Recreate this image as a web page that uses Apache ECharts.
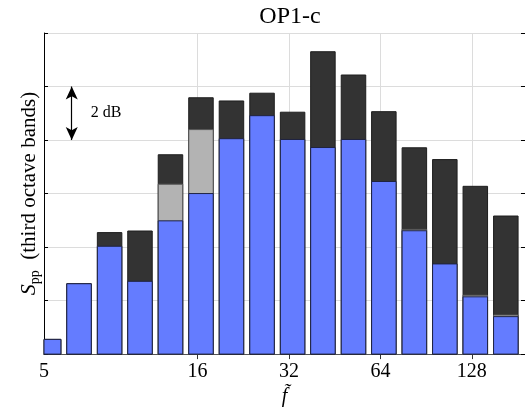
<!DOCTYPE html>
<html>
<head>
<meta charset="utf-8">
<script src="https://cdn.jsdelivr.net/npm/echarts@6/dist/echarts.min.js"></script>
<style>html,body{margin:0;padding:0;background:#fff}#c{width:525px;height:412px}</style>
</head>
<body>
<div id="c"></div>
<script>
// Third-octave band centre frequencies (as placed on the plot)
const bandFreqs = [5.18, 6.52, 8.22, 10.35, 13.04, 16.43, 20.7, 26.1, 32.9, 41.4, 52.2, 65.7, 82.8, 104.3, 131.4, 165.6];
// Levels (dB, relative)
const darkVals = [0.55, 2.63, 4.54, 4.60, 7.45, 9.58, 9.46, 9.75, 9.04, 11.30, 10.43, 9.06, 7.71, 7.27, 6.27, 5.16];
const grayVals = [null, null, null, null, 6.35, 8.39, null, null, null, null, null, null, 4.66, null, 2.20, 1.46];
const blueVals = [0.55, 2.63, 4.03, 2.72, 4.98, 6.00, 8.05, 8.91, 8.02, 7.72, 8.02, 6.45, 4.61, 3.37, 2.14, 1.40];
// Axis tick labels
const tickFreqs = [5, 16, 32, 64, 128];
const gridFreqs = [16, 32, 64, 128];
const xMinFreq = 5, xMaxFreq = 191.5;
const yMin = 0, yMax = 12, yStep = 2;
// annotation: 2 dB arrow
const arrowFreq = 6.17, arrowFrom = 8, arrowTo = 10;
const noteFreq = 8.0, noteLevel = 9, noteText = '2 dB';

const L = Math.log2;
const serif = 'Liberation Serif';
const toPts = vals => bandFreqs.map((f, i) => [L(f), vals[i] == null ? '-' : vals[i]]);
const BAR_W = 24.5;

function renderBar(params, api) {
  const x = api.value(0), y = api.value(1);
  if (isNaN(y)) return null;
  const top = api.coord([x, y]);
  const base = api.coord([x, 0]);
  const cs = params.coordSys;
  const shape = echarts.graphic.clipRectByRect(
    { x: top[0] - BAR_W / 2, y: top[1], width: BAR_W, height: base[1] - top[1] },
    { x: cs.x, y: cs.y, width: cs.width, height: cs.height }
  );
  if (!shape) return null;
  return { type: 'rect', shape: shape, style: api.style() };
}

const chart = echarts.init(document.getElementById('c'));
const barCommon = {
  type: 'custom', renderItem: renderBar, xAxisIndex: 0, yAxisIndex: 0,
  encode: { x: 0, y: 1 }, animation: false, silent: true
};
chart.setOption({
  animation: false,
  title: {
    text: 'OP1-c', left: 285, top: 0, textAlign: 'center',
    textStyle: { fontFamily: serif, fontSize: 24, fontWeight: 'normal', color: '#000' }
  },
  grid: { left: 44, top: 33, right: -2, bottom: 57 },
  xAxis: [{
    type: 'value', position: 'bottom', min: L(xMinFreq), max: L(xMaxFreq),
    axisLine: { show: true, lineStyle: { color: '#000', width: 1 } },
    axisTick: { show: true, inside: true, length: 4, customValues: gridFreqs.map(L), lineStyle: { color: '#000' } },
    axisLabel: {
      show: true, customValues: tickFreqs.map(L), margin: 8,
      formatter: v => String(Math.round(Math.pow(2, v))),
      fontFamily: serif, fontSize: 20, color: '#000'
    },
    splitLine: { show: false },
    name: 'f\u0303', nameLocation: 'middle', nameGap: 28,
    nameTextStyle: { fontFamily: serif, fontStyle: 'italic', fontSize: 20, color: '#000' }
  }, {
    type: 'value', position: 'top', min: L(xMinFreq), max: L(xMaxFreq),
    axisLine: { show: true, lineStyle: { color: '#555', width: 1 } },
    axisTick: { show: true, inside: true, length: 5, customValues: gridFreqs.map(L), lineStyle: { color: '#333' } },
    axisLabel: { show: false },
    splitLine: { show: false }
  }],
  yAxis: [{
    type: 'value', position: 'left', min: yMin, max: yMax, interval: yStep,
    axisLine: { show: true, lineStyle: { color: '#000', width: 1 } },
    axisTick: { show: true, inside: true, length: 4, lineStyle: { color: '#000' } },
    axisLabel: { show: false },
    splitLine: { show: true, lineStyle: { color: '#dcdcdc', width: 1 } },
    name: '{s|S}{sub|pp}{t|  (third octave bands)}', nameLocation: 'middle', nameGap: 2,
    nameTextStyle: {
      color: '#000',
      rich: {
        s: { fontFamily: serif, fontStyle: 'italic', fontSize: 22, lineHeight: 26, verticalAlign: 'middle' },
        sub: { fontFamily: serif, fontSize: 14, lineHeight: 14, verticalAlign: 'bottom' },
        t: { fontFamily: serif, fontSize: 21, lineHeight: 26, verticalAlign: 'middle' }
      }
    }
  }, {
    type: 'value', position: 'right', min: yMin, max: yMax, interval: yStep,
    axisLine: { show: true, lineStyle: { color: '#000', width: 1 } },
    axisTick: { show: true, inside: true, length: 4, lineStyle: { color: '#000' } },
    axisLabel: { show: false },
    splitLine: { show: false }
  }],
  series: [
    {
      type: 'line', name: 'grid', data: [], z: 1, silent: true, animation: false,
      markLine: {
        z: 1, silent: true, symbol: ['none', 'none'], label: { show: false },
        lineStyle: { color: '#dcdcdc', type: 'solid', width: 1 },
        data: gridFreqs.map(f => ({ xAxis: L(f) }))
      }
    },
    Object.assign({}, barCommon, {
      name: 'dark', data: toPts(darkVals), z: 2,
      itemStyle: { color: '#333333', borderColor: '#1e1e1e', borderWidth: 1 }
    }),
    Object.assign({}, barCommon, {
      name: 'gray', data: toPts(grayVals), z: 3,
      itemStyle: { color: '#b3b3b3', borderColor: '#555', borderWidth: 1 }
    }),
    Object.assign({}, barCommon, {
      name: 'blue', data: toPts(blueVals), z: 4,
      itemStyle: { color: '#647cff', borderColor: '#1f2340', borderWidth: 1 }
    }),
    {
      type: 'line', name: 'annot', data: [], z: 5, silent: true, animation: false,
      markLine: {
        silent: true, symbol: ['arrow', 'arrow'], symbolSize: [9, 13],
        label: { show: false },
        lineStyle: { color: '#000', type: 'solid', width: 1.2 },
        data: [[{ coord: [L(arrowFreq), arrowFrom] }, { coord: [L(arrowFreq), arrowTo] }]]
      },
      markPoint: {
        silent: true, symbol: 'circle', symbolSize: 0,
        label: { show: true, position: 'inside', formatter: noteText, fontFamily: serif, fontSize: 16, color: '#000' },
        data: [{ coord: [L(noteFreq), noteLevel] }]
      }
    }
  ]
});
</script>
</body>
</html>
